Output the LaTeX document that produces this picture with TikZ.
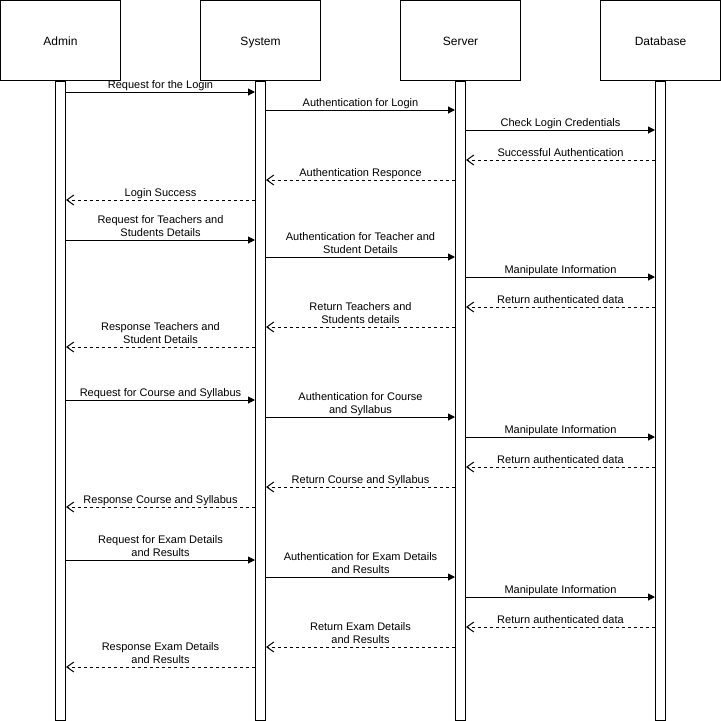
\documentclass[tikz,border=0pt]{standalone}
\usepackage{fontspec}
\setmainfont{Liberation Sans}
\usetikzlibrary{arrows.meta, positioning}

\begin{document}
\begin{tikzpicture}[x=1pt, y=-1pt,
    actor/.style={rectangle, draw, line width=1pt, minimum width=120pt, minimum height=80pt, text height=12pt, text depth=2.5pt, font=\fontsize{12}{14}\selectfont},
    lifebar/.style={rectangle, draw, fill=white, line width=1pt, minimum width=10pt, minimum height=639pt, inner sep=0pt},
    call/.style={-{Triangle[length=7pt,width=7pt]}, line width=1pt},
    reply/.style={-{Straight Barb[length=7pt,width=10pt]}, line width=1pt, dash pattern=on 3pt off 3pt},
    msg/.style={above, inner sep=1pt, align=center, text depth=2.5pt, font=\fontsize{11}{13}\selectfont}
]
    \useasboundingbox (0,0) rectangle (721,721);

    % Participants
    \node[actor] (admin) at (60.5,40.5) {Admin};
    \node[actor] (system) at (260.5,40.5) {System};
    \node[actor] (server) at (460.5,40.5) {Server};
    \node[actor] (database) at (660.5,40.5) {Database};

    % Lifelines
    \node[lifebar, below=0pt of admin] (admbar) {};
    \node[lifebar, below=0pt of system] (sysbar) {};
    \node[lifebar, below=0pt of server] (srvbar) {};
    \node[lifebar, below=0pt of database] (dbbar) {};

    % Login
    \draw[call] (admbar.east |- 0,92) -- node[msg] {Request for the Login} (sysbar.west |- 0,92);
    \draw[call] (sysbar.east |- 0,110) -- node[msg] {Authentication for Login} (srvbar.west |- 0,110);
    \draw[call] (srvbar.east |- 0,130) -- node[msg] {Check Login Credentials} (dbbar.west |- 0,130);
    \draw[reply] (dbbar.west |- 0,160) -- node[msg] {Successful Authentication} (srvbar.east |- 0,160);
    \draw[reply] (srvbar.west |- 0,180) -- node[msg] {Authentication Responce} (sysbar.east |- 0,180);
    \draw[reply] (sysbar.west |- 0,200) -- node[msg] {Login Success} (admbar.east |- 0,200);

    % Teachers and students
    \draw[call] (admbar.east |- 0,240) -- node[msg] {Request for Teachers and\\Students Details} (sysbar.west |- 0,240);
    \draw[call] (sysbar.east |- 0,257) -- node[msg] {Authentication for Teacher and\\Student Details} (srvbar.west |- 0,257);
    \draw[call] (srvbar.east |- 0,277) -- node[msg] {Manipulate Information} (dbbar.west |- 0,277);
    \draw[reply] (dbbar.west |- 0,307) -- node[msg] {Return authenticated data} (srvbar.east |- 0,307);
    \draw[reply] (srvbar.west |- 0,327) -- node[msg] {Return Teachers and\\Students details} (sysbar.east |- 0,327);
    \draw[reply] (sysbar.west |- 0,347) -- node[msg] {Response Teachers and\\Student Details} (admbar.east |- 0,347);

    % Course and syllabus
    \draw[call] (admbar.east |- 0,400) -- node[msg] {Request for Course and Syllabus} (sysbar.west |- 0,400);
    \draw[call] (sysbar.east |- 0,417) -- node[msg] {Authentication for Course\\and Syllabus} (srvbar.west |- 0,417);
    \draw[call] (srvbar.east |- 0,437) -- node[msg] {Manipulate Information} (dbbar.west |- 0,437);
    \draw[reply] (dbbar.west |- 0,467) -- node[msg] {Return authenticated data} (srvbar.east |- 0,467);
    \draw[reply] (srvbar.west |- 0,487) -- node[msg] {Return Course and Syllabus} (sysbar.east |- 0,487);
    \draw[reply] (sysbar.west |- 0,507) -- node[msg] {Response Course and Syllabus} (admbar.east |- 0,507);

    % Exam details and results
    \draw[call] (admbar.east |- 0,560) -- node[msg] {Request for Exam Details\\and Results} (sysbar.west |- 0,560);
    \draw[call] (sysbar.east |- 0,577) -- node[msg] {Authentication for Exam Details\\and Results} (srvbar.west |- 0,577);
    \draw[call] (srvbar.east |- 0,597) -- node[msg] {Manipulate Information} (dbbar.west |- 0,597);
    \draw[reply] (dbbar.west |- 0,627) -- node[msg] {Return authenticated data} (srvbar.east |- 0,627);
    \draw[reply] (srvbar.west |- 0,647) -- node[msg] {Return Exam Details\\and Results} (sysbar.east |- 0,647);
    \draw[reply] (sysbar.west |- 0,667) -- node[msg] {Response Exam Details\\and Results} (admbar.east |- 0,667);
\end{tikzpicture}
\end{document}
